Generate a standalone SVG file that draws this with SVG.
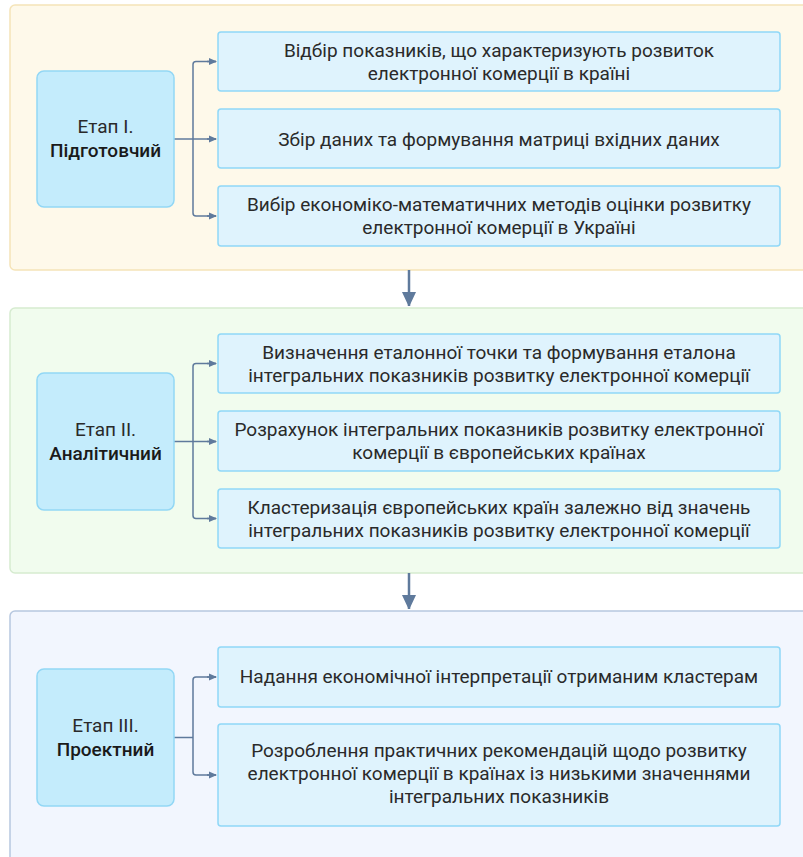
<svg xmlns="http://www.w3.org/2000/svg" width="803" height="857" viewBox="0 0 803 857">
<style>
text{font-family:Roboto,"Liberation Sans",sans-serif;font-size:19px;fill:#2a2a2a;text-anchor:middle}
.b{font-weight:500;fill:#1a1a1a}
.stage{fill:#c4ecfc;stroke:#92d7f5;stroke-width:1.5}
.item{fill:#dff3fd;stroke:#90d8f7;stroke-width:1.5}
.conn{fill:none;stroke:#5f7a9c;stroke-width:1.5}
.big{fill:none;stroke:#5f7a9c;stroke-width:2.5}
</style>
<defs>
<marker id="ah" markerWidth="8" markerHeight="8" refX="7" refY="4" orient="auto" markerUnits="userSpaceOnUse">
<path d="M0,0.5 L8,4 L0,7.5 Z" fill="#5f7a9c"/>
</marker>
<marker id="ahb" markerWidth="14" markerHeight="15" refX="14" refY="7" orient="auto" markerUnits="userSpaceOnUse">
<path d="M0,0 L15,7 L0,14 Z" fill="#5f7a9c"/>
</marker>
</defs>
<rect width="803" height="857" fill="#ffffff"/>
<g id="panels">
<rect id="panel1" x="10" y="5" width="800" height="265" rx="5" fill="#fef9ea" stroke="#f5e4b8" stroke-width="1.5"/>
<rect id="panel2" x="10" y="308" width="800" height="265" rx="5" fill="#f1fcee" stroke="#d6ebd0" stroke-width="1.5"/>
<rect id="panel3" x="10" y="611" width="800" height="260" rx="5" fill="#f2f6fe" stroke="#b7c8e0" stroke-width="1.5"/>
</g>
<g id="connectors">
<path class="conn" d="M174,139 H216"/>
<path class="conn" d="M216,61.5 H196 Q193,61.5 193,64.5 V213 Q193,216 196,216 H216"/>
<path class="conn" d="M207,61.5 H216" marker-end="url(#ah)"/>
<path class="conn" d="M207,139 H216" marker-end="url(#ah)"/>
<path class="conn" d="M207,216 H216" marker-end="url(#ah)"/>
<path class="conn" d="M174,441.5 H216"/>
<path class="conn" d="M216,363.5 H196 Q193,363.5 193,366.5 V515.5 Q193,518.5 196,518.5 H216"/>
<path class="conn" d="M207,363.5 H216" marker-end="url(#ah)"/>
<path class="conn" d="M207,441.5 H216" marker-end="url(#ah)"/>
<path class="conn" d="M207,518.5 H216" marker-end="url(#ah)"/>
<path class="conn" d="M174,737.5 H193"/>
<path class="conn" d="M216,677 H196 Q193,677 193,680 V772 Q193,775 196,775 H216"/>
<path class="conn" d="M207,677 H216" marker-end="url(#ah)"/>
<path class="conn" d="M207,775 H216" marker-end="url(#ah)"/>
<path class="big" d="M409,270 V306" marker-end="url(#ahb)"/>
<path class="big" d="M409,573 V609" marker-end="url(#ahb)"/>
</g>
<g id="stage1">
<rect class="stage" x="37" y="71" width="137" height="136" rx="7"/>
<text x="105.5" y="133">Етап I.</text>
<text class="b" x="105.5" y="157">Підготовчий</text>
</g>
<g id="item1-1">
<rect class="item" x="218" y="32" width="562" height="59" rx="3"/>
<text x="499" y="57">Відбір показників, що характеризують розвиток</text>
<text x="499" y="80">електронної комерції в країні</text>
</g>
<g id="item1-2">
<rect class="item" x="218" y="109" width="562" height="59" rx="3"/>
<text x="499" y="146">Збір даних та формування матриці вхідних даних</text>
</g>
<g id="item1-3">
<rect class="item" x="218" y="186" width="562" height="60" rx="3"/>
<text x="499" y="211">Вибір економіко-математичних методів оцінки розвитку</text>
<text x="499" y="234">електронної комерції в Україні</text>
</g>
<g id="stage2">
<rect class="stage" x="37" y="373" width="137" height="137" rx="7"/>
<text x="105.5" y="436">Етап II.</text>
<text class="b" x="105.5" y="460">Аналітичний</text>
</g>
<g id="item2-1">
<rect class="item" x="218" y="334" width="562" height="59" rx="3"/>
<text x="499" y="359">Визначення еталонної точки та формування еталона</text>
<text x="499" y="382">інтегральних показників розвитку електронної комерції</text>
</g>
<g id="item2-2">
<rect class="item" x="218" y="411" width="562" height="60" rx="3"/>
<text x="499" y="436">Розрахунок інтегральних показників розвитку електронної</text>
<text x="499" y="459">комерції в європейських країнах</text>
</g>
<g id="item2-3">
<rect class="item" x="218" y="489" width="562" height="59" rx="3"/>
<text x="499" y="514">Кластеризація європейських країн залежно від значень</text>
<text x="499" y="537">інтегральних показників розвитку електронної комерції</text>
</g>
<g id="stage3">
<rect class="stage" x="37" y="669" width="137" height="137" rx="7"/>
<text x="105.5" y="732">Етап III.</text>
<text class="b" x="105.5" y="756">Проектний</text>
</g>
<g id="item3-1">
<rect class="item" x="218" y="647" width="562" height="60" rx="3"/>
<text x="499" y="683">Надання економічної інтерпретації отриманим кластерам</text>
</g>
<g id="item3-2">
<rect class="item" x="218" y="724" width="562" height="102" rx="3"/>
<text x="499" y="757">Розроблення практичних рекомендацій щодо розвитку</text>
<text x="499" y="780">електронної комерції в країнах із низькими значеннями</text>
<text x="499" y="803">інтегральних показників</text>
</g>
</svg>
